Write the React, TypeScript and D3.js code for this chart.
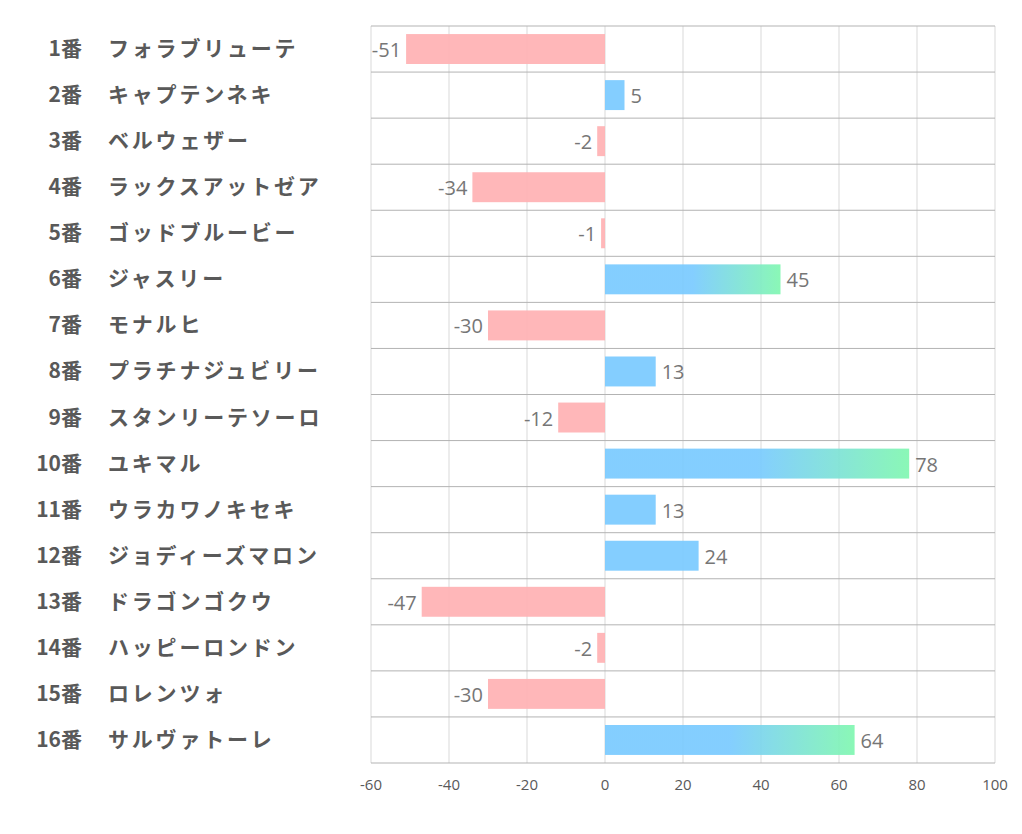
import React from "react";
import * as d3 from "d3";

const numbers = ["1番","2番","3番","4番","5番","6番","7番","8番","9番","10番","11番","12番","13番","14番","15番","16番"];
const names = ["フォラブリューテ","キャプテンネキ","ベルウェザー","ラックスアットゼア","ゴッドブルービー","ジャスリー","モナルヒ","プラチナジュビリー","スタンリーテソーロ","ユキマル","ウラカワノキセキ","ジョディーズマロン","ドラゴンゴクウ","ハッピーロンドン","ロレンツォ","サルヴァトーレ"];
const values = [-51, 5, -2, -34, -1, 45, -30, 13, -12, 78, 13, 24, -47, -2, -30, 64];
const ticks = [-60, -40, -20, 0, 20, 40, 60, 80, 100];
const gradientThreshold = 40;

export default function App() {
  const W = 1022, H = 834;
  const left = 371, right = 995, top = 26, bottom = 763;
  const x = d3.scaleLinear().domain([-60, 100]).range([left, right]);
  const y = d3.scaleBand<number>().domain(d3.range(values.length)).range([top, bottom]).paddingInner(0.35).paddingOuter(0.175);
  const rowH = (bottom - top) / values.length;
  const labelFont = "'Noto Sans CJK JP', sans-serif";
  const valueFont = "'Open Sans', 'Noto Sans', sans-serif";
  return (
    <svg width={W} height={H} style={{ position: "absolute", left: 0, top: 0, background: "#fff" }}>
      <defs>
        <linearGradient id="grad" x1="0" x2="1" y1="0" y2="0">
          <stop offset="0.5" stopColor="#79caff" />
          <stop offset="1" stopColor="#80f7b0" />
        </linearGradient>
      </defs>
      {ticks.map((t) => (
        <line key={"v" + t} x1={x(t)} x2={x(t)} y1={top} y2={bottom} stroke="#d9d9d9" strokeWidth={1} />
      ))}
      {d3.range(values.length + 1).map((i) => (
        <line key={"h" + i} x1={left} x2={right} y1={top + i * rowH} y2={top + i * rowH} stroke="#b3b3b3" strokeWidth={1} />
      ))}
      {values.map((v, i) => {
        const x0 = x(Math.min(0, v));
        const w = Math.abs(x(v) - x(0));
        const fill = v < 0 ? "#ffb1b3" : v >= gradientThreshold ? "url(#grad)" : "#79caff";
        return <rect key={"b" + i} x={x0} y={y(i)} width={w} height={y.bandwidth()} fill={fill} opacity={0.92} />;
      })}
      {values.map((v, i) => {
        const cy = (y(i) as number) + y.bandwidth() / 2 + 8;
        return (
          <text key={"t" + i} x={v < 0 ? x(v) - 5 : x(v) + 6} y={cy} textAnchor={v < 0 ? "end" : "start"}
            fontFamily={valueFont} fontSize={20} fill="#767676">{v}</text>
        );
      })}
      {values.map((_, i) => {
        const cy = top + (i + 0.5) * rowH + 7;
        return (
          <g key={"l" + i}>
            <text x={82} y={cy} textAnchor="end" fontFamily={labelFont} fontWeight="bold" fontSize={21} fill="#595959">{numbers[i]}</text>
            <text x={108} y={cy} textAnchor="start" fontFamily={labelFont} fontWeight="bold" fontSize={21} letterSpacing={2.8} fill="#595959">{names[i]}</text>
          </g>
        );
      })}
      {ticks.map((t) => (
        <text key={"k" + t} x={x(t)} y={790} textAnchor="middle" fontFamily={valueFont} fontSize={15} fill="#595959">{t}</text>
      ))}
    </svg>
  );
}
